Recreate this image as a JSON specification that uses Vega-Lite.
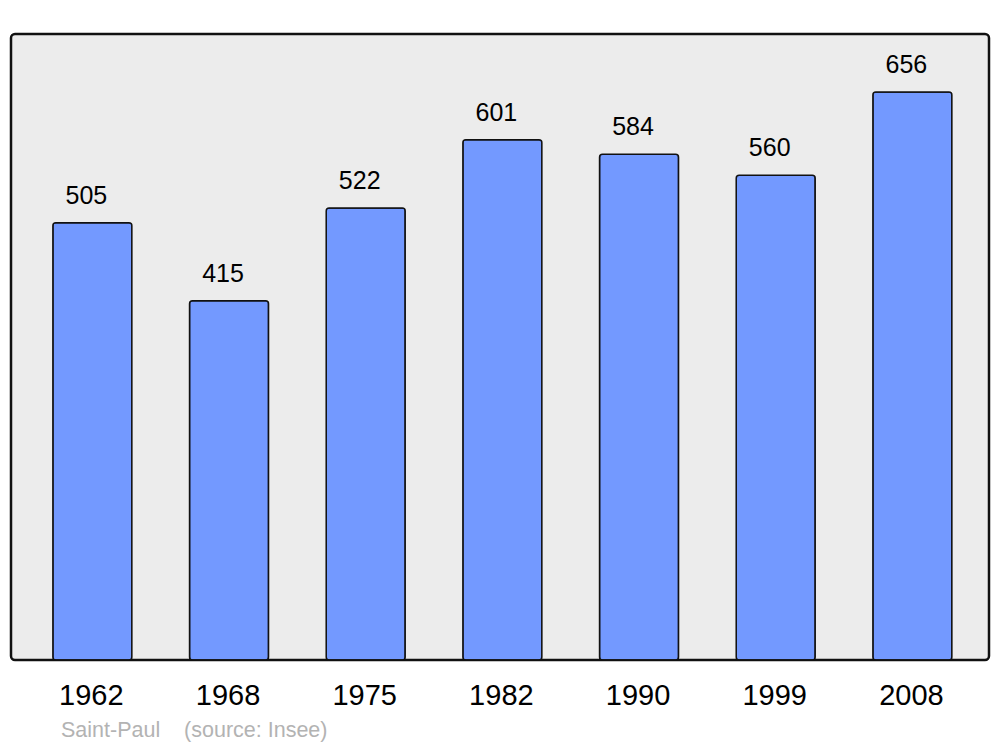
{
  "$schema": "https://vega.github.io/schema/vega-lite/v6.json",
  "width": 978,
  "height": 626,
  "padding": {"left": 11, "top": 34, "right": 11, "bottom": 5},
  "background": "white",
  "config": {
    "view": {"fill": "#ececec", "stroke": "#111111", "strokeWidth": 2.5, "cornerRadius": 4},
    "font": "Liberation Sans"
  },
  "title": {
    "text": "Saint-Paul\u00a0\u00a0\u00a0\u00a0(source: Insee)",
    "orient": "bottom",
    "anchor": "start",
    "frame": "group",
    "dx": 50,
    "offset": 10,
    "fontSize": 21.5,
    "fontWeight": "normal",
    "color": "#b3b3b3",
    "font": "Liberation Sans"
  },
  "data": {
    "values": [
      {"year": "1962", "pop": 505},
      {"year": "1968", "pop": 415},
      {"year": "1975", "pop": 522},
      {"year": "1982", "pop": 601},
      {"year": "1990", "pop": 584},
      {"year": "1999", "pop": 560},
      {"year": "2008", "pop": 656}
    ]
  },
  "encoding": {
    "x": {
      "field": "year",
      "type": "nominal",
      "sort": null,
      "scale": {"paddingInner": 0.422, "paddingOuter": 0.289, "align": 0.53},
      "axis": {
        "title": null,
        "domain": false,
        "ticks": false,
        "labelAngle": 0,
        "labelFontSize": 29,
        "labelColor": "#000000",
        "labelPadding": 21,
        "labelOffset": -1,
        "labelFont": "Liberation Sans"
      }
    },
    "y": {
      "field": "pop",
      "type": "quantitative",
      "scale": {"domain": [0, 723], "nice": false},
      "axis": null
    }
  },
  "layer": [
    {
      "mark": {"type": "bar", "fill": "#7399ff", "stroke": "#111111", "strokeWidth": 1.5, "cornerRadius": 3}
    },
    {
      "mark": {"type": "text", "baseline": "alphabetic", "dx": -6, "dy": -19, "fontSize": 25, "color": "#000000", "font": "Liberation Sans"},
      "encoding": {"text": {"field": "pop", "type": "quantitative"}}
    }
  ]
}
